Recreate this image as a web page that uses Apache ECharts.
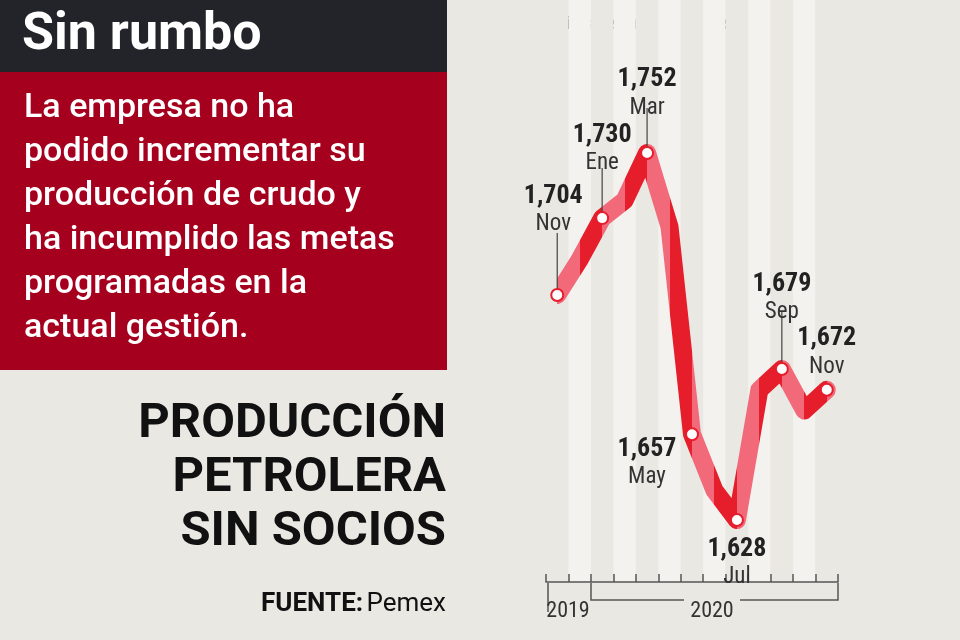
<!DOCTYPE html><html><head><meta charset="utf-8"><script src="https://cdn.jsdelivr.net/npm/echarts@6/dist/echarts.min.js"></script>
<style>html,body{margin:0;background:#e9e8e3}#c{width:960px;height:640px}</style></head><body><div id="c"></div><script>
const months=['Nov','Dic','Ene','Feb','Mar','Abr','May','Jun','Jul','Ago','Sep','Oct','Nov'];
const values=[1704,1716,1730,1736,1752,1727,1657,1638,1628,1672,1679,1665,1672];
const labeledIdx=[0,2,4,6,8,10,12];
const labelLayout={0:[-4,-112,-62,true],2:[0,-96,-50,true],4:[0,-86,-45,true],6:[-45,2,0,false],8:[0,16,0,false],10:[0,-98,-58,true],12:[0,-64,0,false]};
const F="'Liberation Sans Narrow','Roboto Condensed','Liberation Sans',sans-serif";
const pieces=[];for(let i=0;i<13;i++)pieces.push({gte:i-0.5,lt:i+0.5,color:i%2===0?'#f26a7a':'#e61d2b'});
const chart=echarts.init(document.getElementById('c'));
const W=292,L=546;
chart.setOption({
backgroundColor:'#e9e8e3',animation:false,
grid:[{left:L,width:W,top:129.3,height:414.4},{left:L,width:W,top:0,height:582}],
xAxis:[{type:'category',data:months,gridIndex:0,boundaryGap:true,show:false},
{type:'category',data:months,gridIndex:1,boundaryGap:true,axisLabel:{show:false},
 axisLine:{lineStyle:{color:'#555',width:1.5}},axisTick:{show:true,inside:true,interval:0,length:8,lineStyle:{color:'#555',width:1.5}},
 splitArea:{show:true,interval:0,areaStyle:{color:['#e9e8e3','#f3f2ee']}}}],
yAxis:[{type:'value',min:1620,max:1760,gridIndex:0,show:false},{type:'value',gridIndex:1,show:false}],
visualMap:{show:false,type:'piecewise',dimension:0,seriesIndex:0,pieces:pieces},
series:[{type:'line',data:values,xAxisIndex:0,yAxisIndex:0,symbol:'none',lineStyle:{width:18,join:'round',cap:'round'},z:3},
{type:'custom',xAxisIndex:0,yAxisIndex:0,z:5,data:labeledIdx.map(i=>[i,values[i]]),
renderItem:function(p,api){const i=api.value(0);const pt=api.coord([i,api.value(1)]);const lay=labelLayout[i];
 const ch=[];
 if(lay[3])ch.push({type:'line',shape:{x1:pt[0],y1:pt[1]-6,x2:pt[0],y2:pt[1]+lay[2]},style:{stroke:'#444',lineWidth:1.2}});
 ch.push({type:'circle',shape:{cx:pt[0],cy:pt[1],r:6},style:{fill:'#fff',stroke:'#e61d2b',lineWidth:2}});
 const tx=pt[0]+lay[0],ty=pt[1]+lay[1];
 ch.push({type:'text',style:{x:tx,y:ty,text:values[i].toLocaleString('en-US'),font:'bold 26px '+F,fill:'#222',align:'center',verticalAlign:'top'}});
 ch.push({type:'text',style:{x:tx,y:ty+30,text:months[i],font:'23px '+F,fill:'#333',align:'center',verticalAlign:'top'}});
 return {type:'group',children:ch};}}],
graphic:[
{type:'rect',shape:{x:0,y:0,width:447,height:72},style:{fill:'#222429'}},
{type:'text',style:{x:22,y:36,text:'Sin rumbo',font:'bold 52px Roboto,sans-serif',fill:'#fff',verticalAlign:'middle'}},
{type:'rect',shape:{x:0,y:72,width:447,height:298},style:{fill:'#a5001e'}},
{type:'text',style:{x:24,y:86,text:'La empresa no ha\npodido incrementar su\nproducción de crudo y\nha incumplido las metas\nprogramadas en la\nactual gestión.',font:'500 34px Roboto,sans-serif',lineHeight:44,fill:'#fff'}},
{type:'text',style:{x:446,y:398,text:'PRODUCCIÓN\nPETROLERA\nSIN SOCIOS',font:'bold 49px Roboto,sans-serif',lineHeight:54,fill:'#111',align:'right'}},
{type:'text',style:{x:446,y:604,rich:{b:{font:'bold 26px Roboto,sans-serif',fill:'#111'},n:{font:'26px Roboto,sans-serif',fill:'#111'}},text:'{b|FUENTE:} {n|Pemex}',align:'right',verticalAlign:'middle'}},
{type:'text',style:{x:546,y:24,text:'(Miles de barriles diarios)',font:'19px '+F,fill:'#333',verticalAlign:'middle'}},
{type:'polyline',shape:{points:[[548,583],[548,612]]},style:{stroke:'#555',lineWidth:1.5}},
{type:'polyline',shape:{points:[[591,583],[591,600],[684,600]]},style:{stroke:'#555',lineWidth:1.5,fill:null}},
{type:'polyline',shape:{points:[[740,600],[838,600],[838,583]]},style:{stroke:'#555',lineWidth:1.5,fill:null}},
{type:'text',style:{x:568,y:611,text:'2019',font:'22px '+F,fill:'#333',align:'center',verticalAlign:'middle'}},
{type:'text',style:{x:712,y:611,text:'2020',font:'22px '+F,fill:'#333',align:'center',verticalAlign:'middle'}}
]});
</script></body></html>
